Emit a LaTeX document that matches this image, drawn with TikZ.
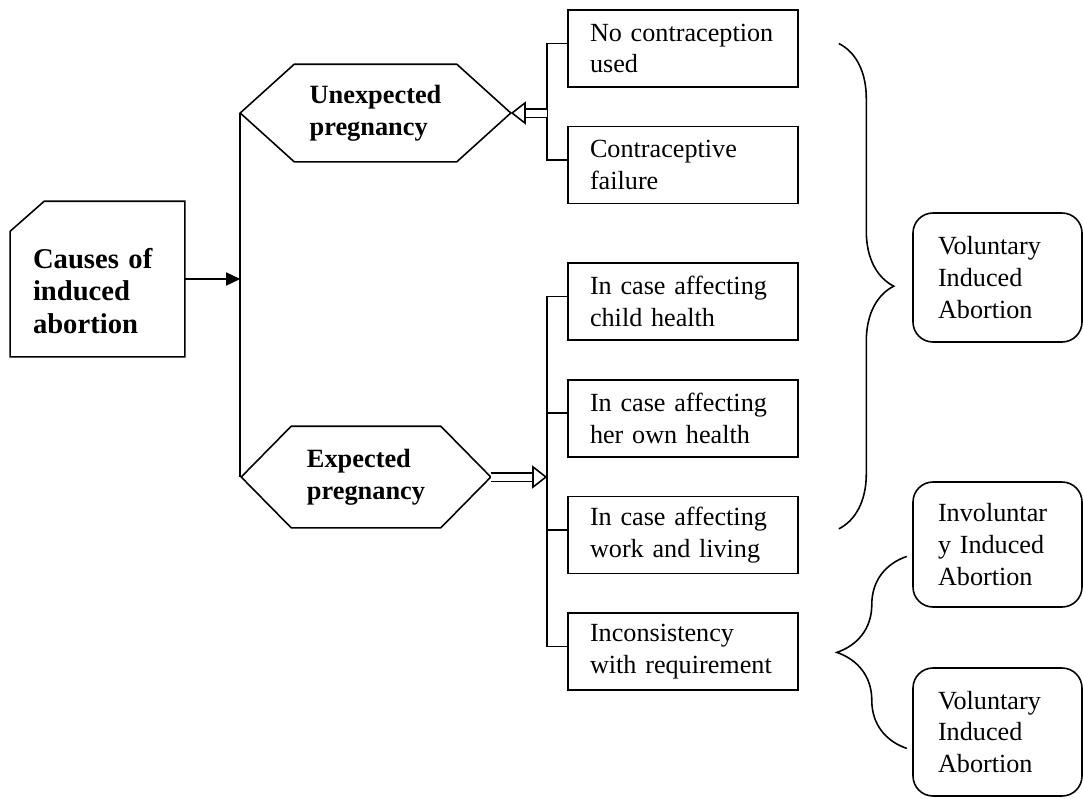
\documentclass[tikz,border=0pt]{standalone}
\usepackage{fontspec}
\setmainfont{Liberation Serif}
\usetikzlibrary{positioning, arrows.meta, calc, decorations.pathreplacing}

\begin{document}
\begin{tikzpicture}[
    line width=0.9pt,
    node distance=0.76cm,
    plain/.style={draw, rectangle, text width=3.72cm, inner xsep=0.44cm, minimum height=1.54cm, align=left, font=\fontsize{14.9}{18.1}\selectfont},
    outcome/.style={draw, rounded corners=0.4cm, text width=2.38cm, inner xsep=0.5cm, minimum height=2.58cm, align=left, font=\fontsize{14.9}{18.1}\selectfont},
    hexnode/.style={inner sep=0pt, align=left, font=\fontsize{15}{18.1}\selectfont\bfseries},
    causebox/.style={minimum width=3.46cm, minimum height=3.08cm, inner sep=0pt},
    causetext/.style={text width=2.58cm, align=left, inner sep=0pt, font=\fontsize{16.3}{18.7}\selectfont\bfseries},
    arr/.style={-{Triangle[length=2.8mm, width=2.6mm]}},
    hollow/.style={double, double distance=1.4mm, -{Triangle[open, length=3mm, width=4.6mm]}},
    curly/.style={decorate, decoration={brace, amplitude=#1}}
]
\useasboundingbox (0,0) rectangle (21.66,-15.96);

% left: the cause and its two kinds of pregnancy
\node[causebox] (causes) at (1.95,-5.58) {};
\node[causetext] (causestext) at ([yshift=-0.24cm]causes.center) {Causes of\\induced\\abortion};
\draw ($(causes.north west)+(0.68,0)$) -- (causes.north east) -- (causes.south east) -- (causes.south west) -- ($(causes.north west)+(0,-0.6)$) -- cycle;

\node[hexnode, minimum width=5.38cm, minimum height=1.92cm] (unexp) at (7.51,-2.26) {Unexpected\\pregnancy};
\draw (unexp.west) -- ($(unexp.north west)+(1.08,0)$) -- ($(unexp.north east)+(-1.08,0)$) -- (unexp.east) -- ($(unexp.south east)+(-1.08,0)$) -- ($(unexp.south west)+(1.08,0)$) -- cycle;

\node[hexnode, minimum width=4.96cm, minimum height=2cm] (exp) at (7.32,-9.54) {Expected\\pregnancy};
\draw (exp.west) -- ($(exp.north west)+(1,0)$) -- ($(exp.north east)+(-1,0)$) -- (exp.east) -- ($(exp.south east)+(-1,0)$) -- ($(exp.south west)+(1,0)$) -- cycle;

\draw (unexp.west) -- (unexp.west |- exp.west);
\draw[arr] (causes.east) -- (causes.east -| unexp.west);

% middle: the reasons
\node[plain] (nouse) at (13.66,-0.97) {No contraception\\used};
\node[plain, below=of nouse] (failure) {Contraceptive\\failure};
\node[plain, below=1.16cm of failure] (child) {In case affecting\\child health};
\node[plain, below=of child] (own) {In case affecting\\her own health};
\node[plain, below=of own] (work) {In case affecting\\work and living};
\node[plain, below=of work] (incons) {Inconsistency\\with requirement};

\draw ([yshift=1mm]nouse.west) -- ++(-0.4,0) |- ([yshift=1mm]failure.west);
\draw ([yshift=1mm]child.west) -- ++(-0.4,0) |- ([yshift=1mm]incons.west);
\draw ([yshift=1mm]own.west) -- ++(-0.4,0);
\draw ([yshift=1mm]work.west) -- ++(-0.4,0);
\coordinate (trunk) at ([xshift=-4mm]nouse.west);

\draw[hollow] (trunk |- unexp.east) -- (unexp.east);
\draw[hollow] (exp.east) -- (exp.east -| trunk);

% right: the outcomes
\node[outcome] (vol) at (19.95,-5.55) {Voluntary\\Induced\\Abortion};
\node[outcome, minimum height=2.5cm] (invol) at (19.95,-10.89) {Involuntar\\y Induced\\Abortion};
\node[outcome, minimum height=2.56cm] (vol2) at (19.95,-14.64) {Voluntary\\Induced\\Abortion};

\draw[curly=1.1cm] ($(nouse.east)+(0.8,0.1)$) -- ($(work.east)+(0.8,0.12)$);
\draw[curly=1.4cm] ($(incons.east)+(2.16,-1.94)$) -- ($(incons.east)+(2.16,1.9)$);

\end{tikzpicture}
\end{document}
